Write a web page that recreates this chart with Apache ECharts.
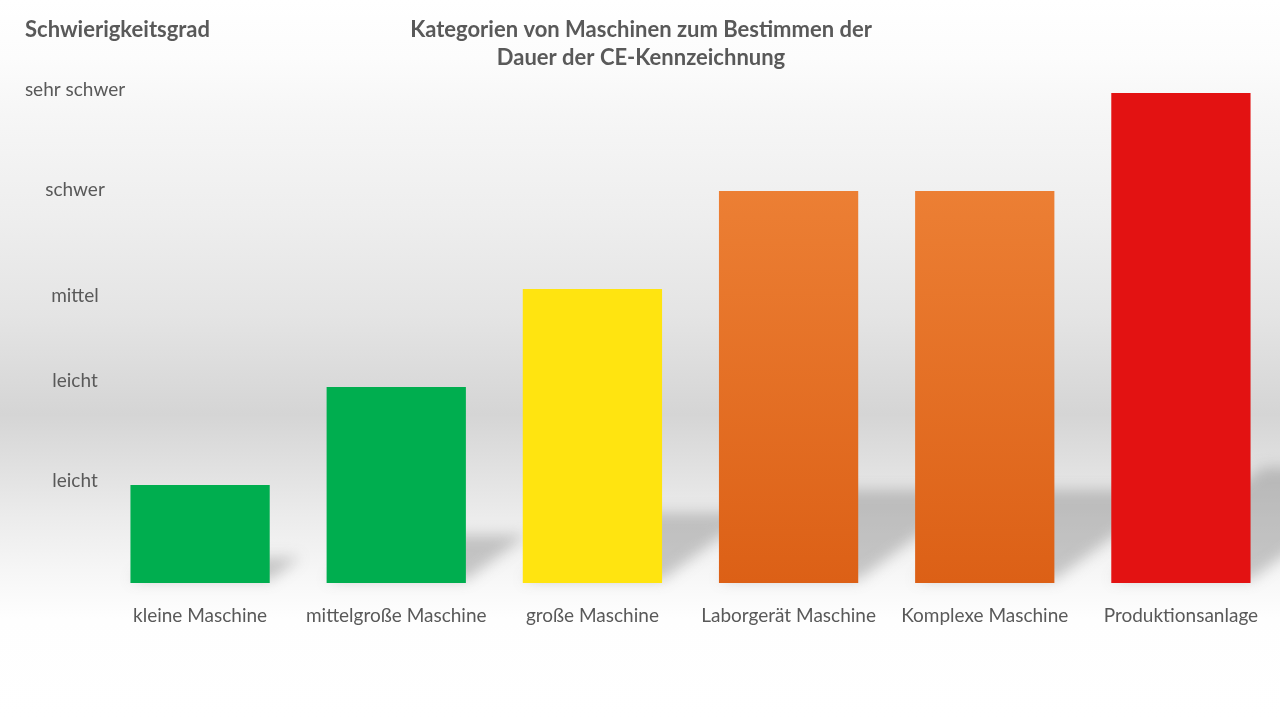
<!DOCTYPE html>
<html>
<head>
<meta charset="utf-8">
<script src="https://cdn.jsdelivr.net/npm/echarts@6/dist/echarts.min.js"></script>
<style>html,body{margin:0;padding:0;}#c{width:1280px;height:720px;}</style>
</head>
<body>
<div id="c"></div>
<script>
var categories = ['kleine Maschine', 'mittelgroße Maschine', 'große Maschine', 'Laborgerät Maschine', 'Komplexe Maschine', 'Produktionsanlage'];
var values = [1, 2, 3, 4, 4, 5];
var levelLabels = ['', 'leicht', 'leicht', 'mittel', 'schwer', 'sehr schwer'];
var chartTitle = 'Kategorien von Maschinen zum Bestimmen der\nDauer der CE-Kennzeichnung';
var axisTitle = 'Schwierigkeitsgrad';

var FONT = 'Lato';
var TXT = '#595959';
function vgrad(a, b) { return {type:'linear', x:0, y:0, x2:0, y2:1, colorStops:[{offset:0,color:a},{offset:1,color:b}]}; }
var barColors = [
  '#00AE4F', '#00AE4F', '#FFE410',
  vgrad('#EC7F34', '#DC6016'), vgrad('#EC7F34', '#DC6016'), '#E31212'
];
var BAR_FRAC = 0.71;
// small vertical nudges of the level labels (padding top / bottom)
var labelPad = [[0,0],[0,8],[0,12],[14,0],[0,2],[0,6]];
var rich = {};
labelPad.forEach(function (p, i) {
  rich['l' + i] = {fontFamily: FONT, fontSize: 19, color: TXT, padding: [p[0], 0, p[1], 0], align: 'center'};
});

var OFF = 3000;
var chart = echarts.init(document.getElementById('c'));
chart.setOption({
  backgroundColor: {type:'linear', x:0, y:0, x2:0, y2:1, colorStops:[
    {offset:0, color:'#ffffff'}, {offset:0.08, color:'#fcfcfc'}, {offset:0.16, color:'#f6f6f6'},
    {offset:0.3, color:'#eeeeee'}, {offset:0.44, color:'#e4e4e4'}, {offset:0.575, color:'#d5d5d5'},
    {offset:0.62, color:'#dcdcdc'}, {offset:0.72, color:'#ececec'}, {offset:0.8, color:'#f7f7f7'},
    {offset:0.86, color:'#fefefe'}, {offset:1, color:'#ffffff'}]},
  animation: false,
  title: [
    {text: chartTitle, left: 636, top: 11, textAlign: 'center',
     textStyle: {fontFamily: FONT, fontSize: 22, fontWeight: 'bold', color: TXT, lineHeight: 28}},
    {text: axisTitle, left: 20, top: 14,
     textStyle: {fontFamily: FONT, fontSize: 22, fontWeight: 'bold', color: TXT}}
  ],
  grid: {left: 102, right: 1, top: 93, bottom: 137},
  xAxis: {
    type: 'category', data: categories,
    axisLine: {show: false}, axisTick: {show: false},
    axisLabel: {fontFamily: FONT, fontSize: 19, color: TXT, margin: 23, interval: 0}
  },
  yAxis: {
    type: 'value', min: 0, max: 5, interval: 1,
    splitLine: {show: false}, axisLine: {show: false}, axisTick: {show: false},
    axisLabel: {fontFamily: FONT, fontSize: 19, color: TXT, align: 'center', margin: 27, rich: rich,
      formatter: function (v) { return levelLabels[v] ? '{l' + v + '|' + levelLabels[v] + '}' : ''; }}
  },
  series: [
    {
      type: 'custom', z: 1, silent: true, clip: false,
      data: values.map(function (v, i) { return [i, v]; }),
      renderItem: function (params, api) {
        var i = api.value(0), v = api.value(1);
        var base = api.coord([i, 0]);
        var top = api.coord([i, v]);
        var w = api.size([1, 0])[0] * BAR_FRAC;
        var h = base[1] - top[1];
        var xl = base[0] - w / 2, xr = base[0] + w / 2, y0 = base[1] - 3;
        var dx = 0.31 * h, dy = 0.23 * h;
        return {
          type: 'polygon',
          shape: {points: [[xl - OFF, y0], [xr - OFF, y0], [xr + dx - OFF, y0 - dy], [xl + dx - OFF, y0 - dy]]},
          style: {fill: '#888', shadowBlur: 14, shadowColor: 'rgba(110,110,110,0.36)', shadowOffsetX: OFF, shadowOffsetY: 0}
        };
      }
    },
    {
      type: 'bar', z: 2, barWidth: (BAR_FRAC * 100) + '%',
      data: values.map(function (v, i) { return {value: v, itemStyle: {color: barColors[i]}}; })
    }
  ]
});
</script>
</body>
</html>
